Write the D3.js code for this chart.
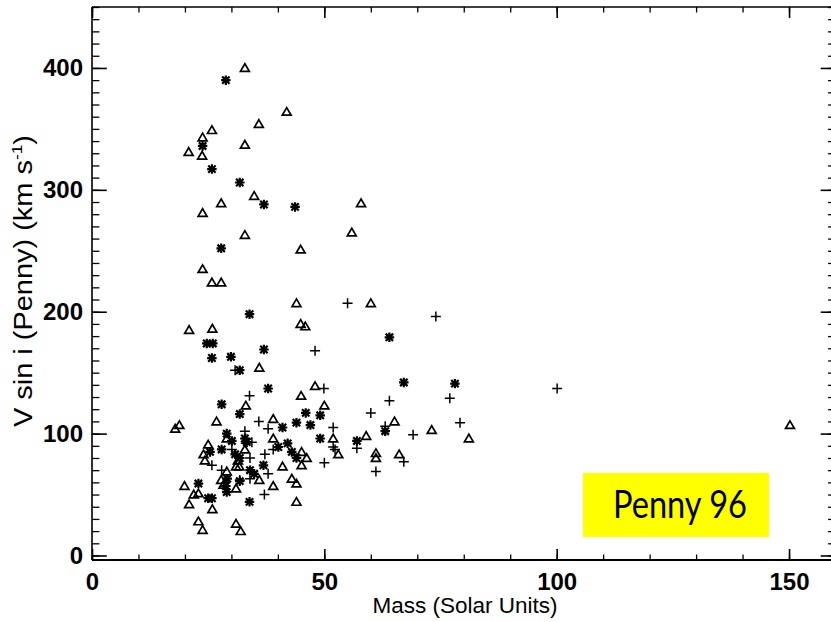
<!DOCTYPE html>
<html>
<head>
<meta charset="utf-8">
<script src="https://cdn.jsdelivr.net/npm/d3@7"></script>
<style>
html,body{margin:0;padding:0;background:#fff;}
svg{display:block;}
</style>
</head>
<body>
<svg id="chart" width="831" height="622"></svg>
<script>
// ---- data (Mass in solar units, V sin i in km/s) ----
const triX = [32.9,41.9,35.9,25.8,23.8,32.9,20.8,23.7,34.9,27.8,23.8,57.9,55.9,32.9,44.9,23.8,25.8,27.8,44.0,60.0,
  44.9,45.9,20.9,25.9,36.0,48.0,45.0,50.0,33.1,26.8,39.0,17.9,18.8,65.1,73.1,59.0,81.1,51.9,29.0,39.0,
  25.0,45.1,53.0,61.1,61.1,66.1,24.0,24.3,31.4,46.2,31.0,31.7,45.1,41.0,36.0,43.0,44.0,27.8,28.3,29.0,
  31.0,39.0,19.9,21.9,22.9,20.9,25.9,44.0,22.9,23.8,31.0,32.0,150.2,32.9];
const triY = [400,364,354,349,343,337,331,328,295,289,281,289,265,263,251,235,224,224,207,207,
  190,188,185,186,154,139,131,123,123,110,112,104,107,110,103,98,96,96,96,96,
  91,85,83,84,80,83,83,78,78,80,73,73,74,73,62,63,59,62,58,69,
  55,57,57,50,51,42,38,44,28,21,26,20,107,87];

const astX = [28.8,23.8,25.8,31.8,37.0,43.7,27.8,33.9,64.0,24.7,26.0,25.8,29.9,37.0,31.8,67.1,78.1,37.9,27.9,31.8,
  46.0,49.1,44.0,41.0,47.0,29.0,30.1,49.1,57.0,63.1,32.9,33.3,27.9,25.4,42.1,40.1,43.0,30.8,31.8,44.0,
  34.0,34.9,36.9,29.1,31.8,28.8,29.0,22.9,25.0,25.8,33.9];
const astY = [390,336,317,306,288,286,252,198,179,174,174,162,163,169,152,142,141,137,124,116,
  117,115,109,105,107,100,94,96,94,102,96,93,87,85,92,89,85,83,80,80,
  70,67,74,63,61,57,52,59,47,47,44];

const plusX = [55.0,74.0,48.0,100.1,49.9,64.0,77.0,60.0,79.2,51.9,63.1,69.1,51.9,52.3,57.0,67.1,61.1,50.0,30.8,33.9,
  35.9,37.9,32.9,33.1,34.4,30.1,39.0,37.2,34.0,25.8,27.9,37.9,31.8,37.1,34.0,33.1];
const plusY = [207,196,168,137,137,127,129,117,109,105,106,99,89,87,88,77,69,76,152,131,
  110,104,102,92,93,87,87,83,80,74,70,67,62,50,63,96];

const xMajor = [0,50,100,150];
const yMajor = [0,100,200,300,400];
const xMinor = d3.range(0,161,10);
const yMinor = d3.range(0,451,10);
const xTitle = "Mass (Solar Units)";
const yTitle = "V sin i (Penny) (km s";
const ySup = "-1";
const boxLabel = "Penny 96";

// ---- layout ----
const svg = d3.select("#chart");
const L = 92, R = 835.5, T = 7, B = 560;
const x = d3.scaleLinear().domain([0,160]).range([L,R]);
const y = d3.scaleLinear().domain([-3.7,450]).range([B,T]);
const font = "'Liberation Sans', Arial, Helvetica, sans-serif";

// label box
svg.append("rect").attr("x",583).attr("y",473).attr("width",186).attr("height",64).attr("fill","#ffff00");
svg.append("text").attr("x",680).attr("y",518).attr("text-anchor","middle")
  .attr("font-family","Lato, 'Open Sans', sans-serif").attr("font-size",38)
  .attr("textLength",134).attr("lengthAdjust","spacingAndGlyphs")
  .attr("fill","#000").text(boxLabel);

// axes
function styleAxis(g, sw){
  g.selectAll(".domain").remove();
  g.selectAll(".tick line").attr("stroke","#000").attr("stroke-width",sw);
}
const tickFont = g => g.selectAll("text").attr("font-family",font).attr("font-size",24)
  .attr("font-weight","bold").attr("fill","#000");

// bottom
svg.append("g").attr("transform",`translate(0,${B})`)
  .call(d3.axisBottom(x).tickValues(xMinor).tickSize(-5.5).tickFormat(""))
  .call(g=>styleAxis(g,1.3));
svg.append("g").attr("transform",`translate(0,${B})`)
  .call(d3.axisBottom(x).tickValues(xMajor).tickSize(-11).tickPadding(13).tickFormat(d3.format("d")))
  .call(g=>styleAxis(g,1.6)).call(tickFont);
// top
svg.append("g").attr("transform",`translate(0,${T})`)
  .call(d3.axisTop(x).tickValues(xMinor).tickSize(-5.5).tickFormat(""))
  .call(g=>styleAxis(g,1.3));
svg.append("g").attr("transform",`translate(0,${T})`)
  .call(d3.axisTop(x).tickValues(xMajor).tickSize(-11).tickFormat(""))
  .call(g=>styleAxis(g,1.6));
// left
svg.append("g").attr("transform",`translate(${L},0)`)
  .call(d3.axisLeft(y).tickValues(yMinor).tickSize(-7.4).tickFormat(""))
  .call(g=>styleAxis(g,1.3));
svg.append("g").attr("transform",`translate(${L},0)`)
  .call(d3.axisLeft(y).tickValues(yMajor).tickSize(-14.8).tickPadding(9).tickFormat(d3.format("d")))
  .call(g=>styleAxis(g,1.6)).call(tickFont);
// right
svg.append("g").attr("transform",`translate(${R},0)`)
  .call(d3.axisRight(y).tickValues(yMinor).tickSize(-7.4).tickFormat(""))
  .call(g=>styleAxis(g,1.3));
svg.append("g").attr("transform",`translate(${R},0)`)
  .call(d3.axisRight(y).tickValues(yMajor).tickSize(-14.8).tickFormat(""))
  .call(g=>styleAxis(g,1.6));

// frame
svg.append("path").attr("d",`M${L},${T}L${R},${T}M${L},${T}L${L},${B}`)
  .attr("stroke","#000").attr("stroke-width",1.6).attr("fill","none");
svg.append("path").attr("d",`M${L},${B}L${R},${B}`)
  .attr("stroke","#000").attr("stroke-width",2).attr("fill","none");

// marker symbols
const triSym = {draw(c,s){ const r=Math.sqrt(s)/2; c.moveTo(0,-r); c.lineTo(r*1.05,r*0.8); c.lineTo(-r*1.05,r*0.8); c.closePath(); }};
const plusSym = {draw(c,s){ const r=Math.sqrt(s)/2; c.moveTo(-r,0); c.lineTo(r,0); c.moveTo(0,-r); c.lineTo(0,r); }};
const astSym = {draw(c,s){ const r=Math.sqrt(s)/2, d=r*0.78; c.moveTo(-r,0); c.lineTo(r,0); c.moveTo(0,-r); c.lineTo(0,r);
  c.moveTo(-d,-d); c.lineTo(d,d); c.moveTo(-d,d); c.lineTo(d,-d); }};

const pts = svg.append("g");
pts.selectAll(".tri").data(triX.map((v,i)=>[v,triY[i]])).join("path")
  .attr("transform",d=>`translate(${x(d[0])},${y(d[1])})`)
  .attr("d",d3.symbol().type(triSym).size(72))
  .attr("fill","none").attr("stroke","#000").attr("stroke-width",1.7).attr("stroke-linejoin","miter");
pts.selectAll(".ast").data(astX.map((v,i)=>[v,astY[i]])).join("path")
  .attr("transform",d=>`translate(${x(d[0])},${y(d[1])})`)
  .attr("d",d3.symbol().type(astSym).size(90))
  .attr("fill","none").attr("stroke","#000").attr("stroke-width",2.2);
pts.selectAll(".plus").data(plusX.map((v,i)=>[v,plusY[i]])).join("path")
  .attr("transform",d=>`translate(${x(d[0])},${y(d[1])})`)
  .attr("d",d3.symbol().type(plusSym).size(100))
  .attr("fill","none").attr("stroke","#000").attr("stroke-width",1.5);

// axis titles
svg.append("text").attr("x",465).attr("y",613).attr("text-anchor","middle")
  .attr("font-family",font).attr("font-size",22.5).attr("fill","#000").text(xTitle);
const yt = svg.append("text").attr("transform","translate(32,281) rotate(-90)").attr("text-anchor","middle")
  .attr("font-family",font).attr("font-size",25).attr("fill","#000")
  .attr("textLength",292).attr("lengthAdjust","spacingAndGlyphs");
yt.append("tspan").text(yTitle);
yt.append("tspan").attr("dy",-10).attr("font-size",15).text(ySup);
yt.append("tspan").attr("dy",10).text(")");
</script>
</body>
</html>
